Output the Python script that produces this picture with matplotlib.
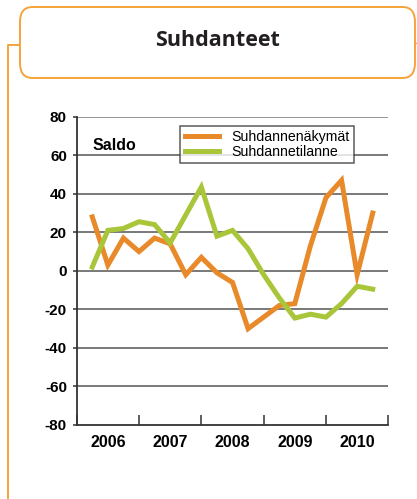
import matplotlib.pyplot as plt
from matplotlib.patches import FancyBboxPatch
from matplotlib.lines import Line2D

# quarterly saldo figures, 2006 Q2 .. 2010 Q4
quarters = [2006 + k / 4 for k in range(1, 20)]
nakymat = [28, 3, 17, 10, 17, 14, -2, 7, -1, -6, -30, -24, -18, -17, 13, 38, 47, -2, 30]
tilanne = [2, 21, 22, 25.5, 24, 14.5, 29, 43.5, 18, 21, 11.5, -2, -14, -24.5, -22.5, -24, -17, -8, -9.5]
years = ['2006', '2007', '2008', '2009', '2010']
yticks = [80, 60, 40, 20, 0, -20, -40, -60, -80]

orange = '#E8892A'
green = '#A9C63B'
frame = '#F5A43C'

W, H = 417, 499
fig = plt.figure(figsize=(W / 100, H / 100), dpi=100)


def fx(x):
    return x / W


def fy(y):
    return 1 - y / H


# title box and connector lines
box = FancyBboxPatch((fx(20), fy(78)), fx(415) - fx(20), fy(7) - fy(78),
                     boxstyle='round,pad=0,rounding_size=0.03',
                     transform=fig.transFigure, facecolor='white',
                     edgecolor=frame, linewidth=1.4)
fig.patches.append(box)
fig.lines.append(Line2D([fx(7.5), fx(7.5), fx(20)], [fy(499), fy(45), fy(45)],
                        transform=fig.transFigure, color=frame, lw=1.4))
fig.lines.append(Line2D([fx(415), fx(417)], [fy(43), fy(43)],
                        transform=fig.transFigure, color=frame, lw=1.0))
fig.text(fx(217), fy(40), 'Suhdanteet', ha='center', va='center',
         fontsize=15.5, fontweight='bold', family='Open Sans', color='#231F20')

ax = fig.add_axes([fx(76.7), fy(425), fx(388.3) - fx(76.7), fy(116.7) - fy(425)])
ax.set_xlim(2006, 2011)
ax.set_ylim(-80, 80)

for v in yticks[1:-1]:
    ax.axhline(v, color='#555555', lw=1.1, zorder=1)
ax.axhline(80, color='#777777', lw=1.1, zorder=1)

ax.plot(quarters, nakymat, color=orange, lw=3.6, solid_joinstyle='miter',
        label='Suhdannenäkymät', zorder=3)
ax.plot(quarters, tilanne, color=green, lw=3.6, solid_joinstyle='miter',
        label='Suhdannetilanne', zorder=3)

for s in ['top', 'right']:
    ax.spines[s].set_visible(False)
for s in ['left', 'bottom']:
    ax.spines[s].set_color('#333333')
    ax.spines[s].set_linewidth(1.3)

ax.set_yticks(yticks)
ax.set_yticklabels([str(v) for v in yticks], fontsize=11, fontweight='bold',
                   family='Liberation Sans')
ax.tick_params(axis='y', length=3, width=1.1, color='#333333', pad=4)

ax.set_xticks(range(2006, 2012))
ax.set_xticklabels([])
ax.tick_params(axis='x', direction='in', length=7, width=1.1, color='#333333')
ax.set_xticks([y + 0.5 for y in range(2006, 2011)], minor=True)
ax.set_xticklabels(years, minor=True, fontsize=11.5, fontweight='bold',
                   family='Liberation Sans')
ax.tick_params(axis='x', which='minor', length=0, pad=7)

ax.text(0.05, 0.905, 'Saldo', transform=ax.transAxes, fontsize=11.5,
        fontweight='bold', family='Liberation Sans', va='center')

leg = ax.legend(loc='upper left', bbox_to_anchor=(0.333, 0.97),
                frameon=True, fancybox=False, edgecolor='#333333',
                handlelength=2.4, borderpad=0.3, labelspacing=0.05,
                handletextpad=0.9, borderaxespad=0,
                prop={'family': 'Liberation Sans', 'size': 10.2})
leg.get_frame().set_linewidth(1.1)

fig.savefig('out.png', dpi=100)
